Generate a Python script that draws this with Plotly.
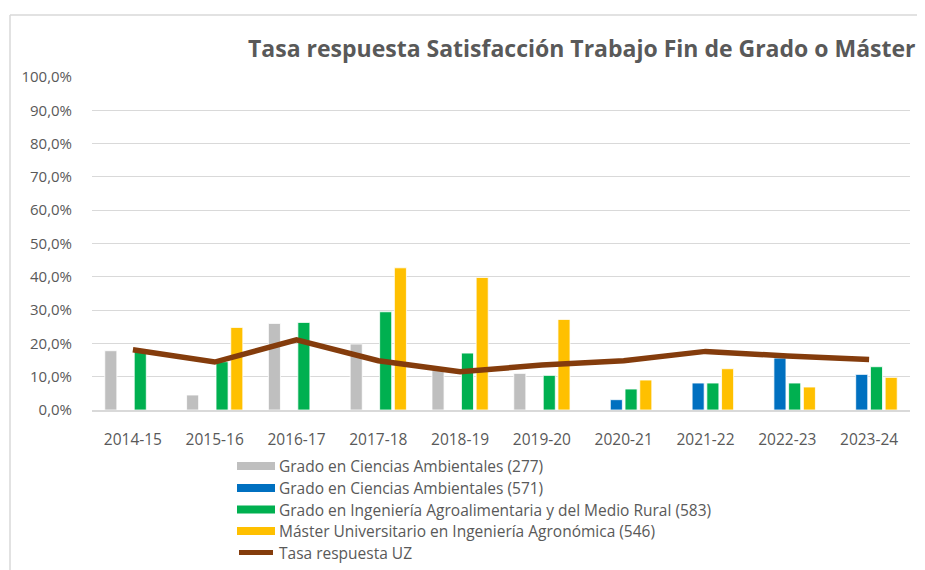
import plotly.graph_objects as go

years = ["2014-15", "2015-16", "2016-17", "2017-18", "2018-19",
         "2019-20", "2020-21", "2021-22", "2022-23", "2023-24"]

cca_277 = [17.8, 4.5, 26.0, 19.8, 12.0, 11.0, None, None, None, None]
cca_571 = [None, None, None, None, None, None, 3.1, 8.1, 15.6, 10.7]
iamr_583 = [17.8, 14.5, 26.3, 29.5, 17.1, 10.4, 6.3, 8.1, 8.1, 13.0]
miagr_546 = [None, 24.8, None, 42.7, 39.8, 27.2, 9.0, 12.4, 6.9, 9.8]
tasa_uz = [18.1, 14.4, 21.1, 14.8, 11.5, 13.5, 14.8, 17.6, 16.2, 15.2]

names = ["Grado en Ciencias Ambientales (277)",
         "Grado en Ciencias Ambientales (571)",
         "Grado en Ingeniería Agroalimentaria y del Medio Rural (583)",
         "Máster Universitario en Ingeniería Agronómica (546)",
         "Tasa respuesta UZ"]
colors = ["#BFBFBF", "#0070C0", "#00B050", "#FFC000", "#843C0C"]
title_text = "Tasa respuesta Satisfacción Trabajo Fin de Grado o Máster"

OFF = 8  # page body margin
W, H = 925 - OFF, 570 - OFF
L, R, T, B = 92 - OFF, 910 - OFF, 77 - OFF, 410 - OFF
pw, ph = R - L, B - T

def px(x):
    return (x - OFF - L) / pw

def py(y):
    return (B - (y - OFF)) / ph

FONT = "Open Sans"
TXT = "#595959"

fig = go.Figure()
for vals, nm, col in zip([cca_277, cca_571, iamr_583, miagr_546], names[:4], colors[:4]):
    fig.add_trace(go.Bar(x=years, y=vals, name=nm, marker_color=col,
                         marker_line_color="white", marker_line_width=0.8,
                         showlegend=False))
fig.add_trace(go.Scatter(x=years, y=tasa_uz, name=names[4], mode="lines",
                         line=dict(color=colors[4], width=5.5), showlegend=False))

shapes = []
annotations = []
# outer chart frame (top and left edges visible)
shapes.append(dict(type="line", xref="paper", yref="paper", x0=px(10), x1=px(935),
                   y0=py(15), y1=py(15), line=dict(color="#D9D9D9", width=1.5)))
shapes.append(dict(type="line", xref="paper", yref="paper", x0=px(10), x1=px(10),
                   y0=py(15), y1=py(580), line=dict(color="#D9D9D9", width=1.5)))

# custom legend
rows = [466, 488, 509.5, 531, 552.5]
for i, (nm, col, ry) in enumerate(zip(names, colors, rows)):
    if i < 4:
        shapes.append(dict(type="rect", xref="paper", yref="paper",
                           x0=px(237), x1=px(275), y0=py(ry - 4), y1=py(ry + 4),
                           fillcolor=col, line=dict(width=0)))
    else:
        shapes.append(dict(type="line", xref="paper", yref="paper",
                           x0=px(239), x1=px(273), y0=py(ry), y1=py(ry),
                           line=dict(color=col, width=5)))
    annotations.append(dict(text=nm, xref="paper", yref="paper", x=px(277), y=py(ry),
                            xanchor="left", yanchor="middle", showarrow=False,
                            font=dict(family=FONT, size=15.5, color=TXT)))

annotations.append(dict(text="<b>" + title_text + "</b>", xref="paper", yref="paper",
                        x=px(246), y=py(48), xanchor="left", yanchor="middle",
                        showarrow=False,
                        font=dict(family=FONT, size=23, color=TXT)))

fig.update_layout(
    width=W, height=H,
    margin=dict(l=L, r=W - R, t=T, b=H - B, pad=0),
    paper_bgcolor="white", plot_bgcolor="white",
    barmode="group", bargap=0.28, bargroupgap=0.18,
    separators=",.",
    font=dict(family=FONT, size=15, color=TXT),
    shapes=shapes, annotations=annotations,
    showlegend=False,
)
fig.update_yaxes(range=[0, 100], dtick=10, tickformat=".1f", ticksuffix="%",
                 showgrid=True, gridcolor="#D9D9D9", gridwidth=1,
                 zeroline=False, showline=False,
                 ticks="outside", ticklen=16, tickcolor="rgba(0,0,0,0)",
                 tickfont=dict(family=FONT, size=15, color=TXT))
fig.update_xaxes(showline=True, linecolor="#D9D9D9", linewidth=1.5,
                 ticks="outside", ticklen=15, tickcolor="rgba(0,0,0,0)",
                 tickfont=dict(family=FONT, size=15.5, color=TXT))

fig.write_html("out.html")
